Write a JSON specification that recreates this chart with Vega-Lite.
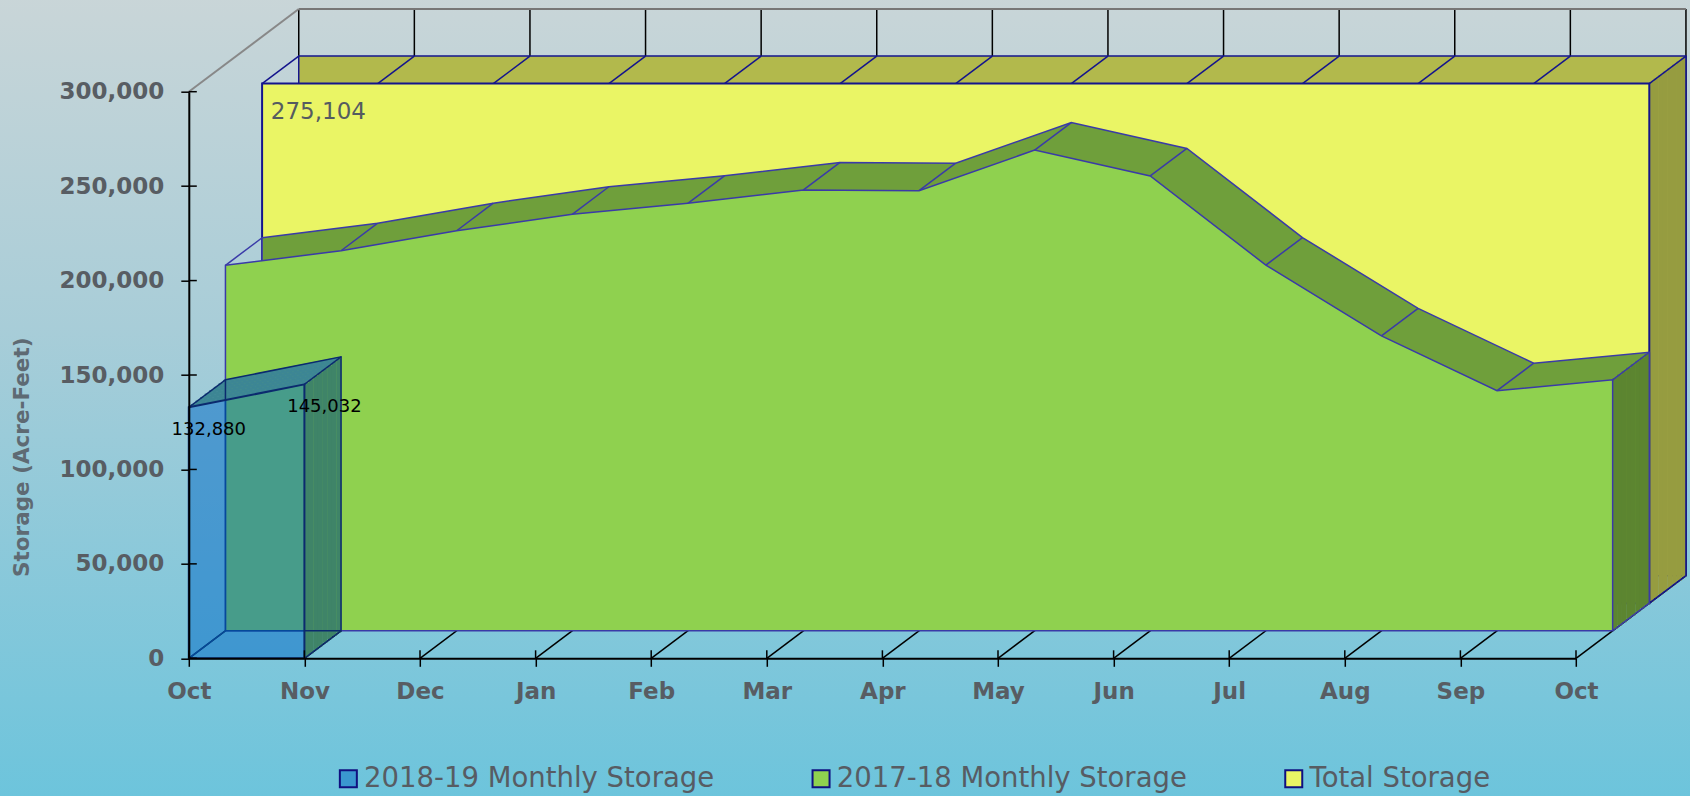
{
  "$schema": "https://vega.github.io/schema/vega-lite/v6.json",
  "autosize": {"type": "none"},
  "padding": {"left": 188.8, "top": 91.7, "right": 114, "bottom": 137.7},
  "width": 1387.2,
  "height": 566.6,
  "datasets": {
    "green": [
      {"m": 0, "v": 193500, "series": "2017-18 Monthly Storage"},
      {"m": 1, "v": 201200, "series": "2017-18 Monthly Storage"},
      {"m": 2, "v": 211800, "series": "2017-18 Monthly Storage"},
      {"m": 3, "v": 220500, "series": "2017-18 Monthly Storage"},
      {"m": 4, "v": 226300, "series": "2017-18 Monthly Storage"},
      {"m": 5, "v": 233400, "series": "2017-18 Monthly Storage"},
      {"m": 6, "v": 233000, "series": "2017-18 Monthly Storage"},
      {"m": 7, "v": 254500, "series": "2017-18 Monthly Storage"},
      {"m": 8, "v": 240800, "series": "2017-18 Monthly Storage"},
      {"m": 9, "v": 193600, "series": "2017-18 Monthly Storage"},
      {"m": 10, "v": 156100, "series": "2017-18 Monthly Storage"},
      {"m": 11, "v": 127100, "series": "2017-18 Monthly Storage"},
      {"m": 12, "v": 132880, "series": "2017-18 Monthly Storage"}
    ],
    "blue": [
      {"m": 0, "v": 132880, "series": "2018-19 Monthly Storage"},
      {"m": 1, "v": 145032, "series": "2018-19 Monthly Storage"}
    ],
    "total": [
      {"m": 0, "v": 275104, "series": "Total Storage"},
      {"m": 1, "v": 275104, "series": "Total Storage"},
      {"m": 2, "v": 275104, "series": "Total Storage"},
      {"m": 3, "v": 275104, "series": "Total Storage"},
      {"m": 4, "v": 275104, "series": "Total Storage"},
      {"m": 5, "v": 275104, "series": "Total Storage"},
      {"m": 6, "v": 275104, "series": "Total Storage"},
      {"m": 7, "v": 275104, "series": "Total Storage"},
      {"m": 8, "v": 275104, "series": "Total Storage"},
      {"m": 9, "v": 275104, "series": "Total Storage"},
      {"m": 10, "v": 275104, "series": "Total Storage"},
      {"m": 11, "v": 275104, "series": "Total Storage"},
      {"m": 12, "v": 275104, "series": "Total Storage"}
    ],
    "months": [
      {"m": 0}, {"m": 1}, {"m": 2}, {"m": 3}, {"m": 4}, {"m": 5}, {"m": 6},
      {"m": 7}, {"m": 8}, {"m": 9}, {"m": 10}, {"m": 11}, {"m": 12}
    ],
    "yticks": [
      {"v": 0}, {"v": 50000}, {"v": 100000}, {"v": 150000}, {"v": 200000}, {"v": 250000}, {"v": 300000}
    ],
    "one": [{}]
  },
  "layer": [
    {
      "data": {"name": "one"},
      "mark": {"type": "rect", "clip": false,
        "fill": {"gradient": "linear", "x1": 0, "y1": 0, "x2": 0, "y2": 1,
          "stops": [{"offset": 0, "color": "#cbd6d8"}, {"offset": 0.42, "color": "#a8cdd8"}, {"offset": 1, "color": "#6bc4dc"}]}},
      "encoding": {
        "x": {"datum": -2, "type": "quantitative", "scale": {"domain": [0, 12], "nice": false, "zero": false}},
        "x2": {"datum": 14},
        "y": {"datum": 360000, "type": "quantitative", "scale": {"domain": [0, 300000], "nice": false}},
        "y2": {"datum": -80000}
      }
    },
    {
      "data": {"name": "months"},
      "mark": {"type": "rule", "stroke": "#000000", "strokeWidth": 1.5, "xOffset": 109.95, "yOffset": -82.65, "y2Offset": -82.65},
      "encoding": {
        "x": {"field": "m", "type": "quantitative", "scale": {"domain": [0, 12], "nice": false, "zero": false}},
        "y": {"datum": 300000, "type": "quantitative", "scale": {"domain": [0, 300000], "nice": false}},
        "y2": {"datum": 0}
      }
    },
    {
      "data": {"name": "one"},
      "mark": {"type": "rule", "stroke": "#777777", "strokeWidth": 2, "xOffset": 109.95, "x2Offset": 109.95, "yOffset": -82.65},
      "encoding": {
        "x": {"datum": 0, "type": "quantitative", "scale": {"domain": [0, 12], "nice": false, "zero": false}},
        "x2": {"datum": 12},
        "y": {"datum": 300000, "type": "quantitative", "scale": {"domain": [0, 300000], "nice": false}}
      }
    },
    {
      "data": {"name": "one"},
      "mark": {"type": "rule", "stroke": "#888888", "strokeWidth": 2, "x2Offset": 109.95, "y2Offset": -82.65},
      "encoding": {
        "x": {"datum": 0, "type": "quantitative", "scale": {"domain": [0, 12], "nice": false, "zero": false}},
        "x2": {"datum": 0},
        "y": {"datum": 300000, "type": "quantitative", "scale": {"domain": [0, 300000], "nice": false}},
        "y2": {"datum": 300000}
      }
    },
    {
      "data": {"name": "months"},
      "mark": {"type": "rule", "stroke": "#000000", "strokeWidth": 1.5, "x2Offset": 109.95, "y2Offset": -82.65},
      "encoding": {
        "x": {"field": "m", "type": "quantitative", "scale": {"domain": [0, 12], "nice": false, "zero": false}},
        "x2": {"field": "m"},
        "y": {"datum": 0, "type": "quantitative", "scale": {"domain": [0, 300000], "nice": false}},
        "y2": {"datum": 0}
      }
    },

    {"data": {"name": "total"}, "mark": {"type": "area", "fill": "#b2b94c", "stroke": "#14148c", "strokeWidth": 1.5, "xOffset": 109.95, "yOffset": -82.65, "y2Offset": -82.65},
      "encoding": {"x": {"field": "m", "type": "quantitative", "scale": {"domain": [0, 12], "nice": false, "zero": false}}, "y": {"field": "v", "type": "quantitative", "scale": {"domain": [0, 300000], "nice": false}}, "y2": {"datum": 0}}},

    {"data": {"name": "total"}, "transform": [{"filter": "datum.m == 12"}], "mark": {"type": "rule", "stroke": "#969c40", "strokeWidth": 4.9, "strokeCap": "butt", "xOffset": 75.59, "yOffset": -56.82, "y2Offset": -56.82},
      "encoding": {"x": {"field": "m", "type": "quantitative", "scale": {"domain": [0, 12], "nice": false, "zero": false}}, "y": {"field": "v", "type": "quantitative", "scale": {"domain": [0, 300000], "nice": false}}, "y2": {"datum": 0}}},
    {"data": {"name": "total"}, "transform": [{"filter": "datum.m == 12"}], "mark": {"type": "rule", "stroke": "#969c40", "strokeWidth": 4.9, "strokeCap": "butt", "xOffset": 80.17, "yOffset": -60.27, "y2Offset": -60.27},
      "encoding": {"x": {"field": "m", "type": "quantitative", "scale": {"domain": [0, 12], "nice": false, "zero": false}}, "y": {"field": "v", "type": "quantitative", "scale": {"domain": [0, 300000], "nice": false}}, "y2": {"datum": 0}}},
    {"data": {"name": "total"}, "transform": [{"filter": "datum.m == 12"}], "mark": {"type": "rule", "stroke": "#969c40", "strokeWidth": 4.9, "strokeCap": "butt", "xOffset": 84.75, "yOffset": -63.71, "y2Offset": -63.71},
      "encoding": {"x": {"field": "m", "type": "quantitative", "scale": {"domain": [0, 12], "nice": false, "zero": false}}, "y": {"field": "v", "type": "quantitative", "scale": {"domain": [0, 300000], "nice": false}}, "y2": {"datum": 0}}},
    {"data": {"name": "total"}, "transform": [{"filter": "datum.m == 12"}], "mark": {"type": "rule", "stroke": "#969c40", "strokeWidth": 4.9, "strokeCap": "butt", "xOffset": 89.33, "yOffset": -67.15, "y2Offset": -67.15},
      "encoding": {"x": {"field": "m", "type": "quantitative", "scale": {"domain": [0, 12], "nice": false, "zero": false}}, "y": {"field": "v", "type": "quantitative", "scale": {"domain": [0, 300000], "nice": false}}, "y2": {"datum": 0}}},
    {"data": {"name": "total"}, "transform": [{"filter": "datum.m == 12"}], "mark": {"type": "rule", "stroke": "#969c40", "strokeWidth": 4.9, "strokeCap": "butt", "xOffset": 93.92, "yOffset": -70.6, "y2Offset": -70.6},
      "encoding": {"x": {"field": "m", "type": "quantitative", "scale": {"domain": [0, 12], "nice": false, "zero": false}}, "y": {"field": "v", "type": "quantitative", "scale": {"domain": [0, 300000], "nice": false}}, "y2": {"datum": 0}}},
    {"data": {"name": "total"}, "transform": [{"filter": "datum.m == 12"}], "mark": {"type": "rule", "stroke": "#969c40", "strokeWidth": 4.9, "strokeCap": "butt", "xOffset": 98.5, "yOffset": -74.04, "y2Offset": -74.04},
      "encoding": {"x": {"field": "m", "type": "quantitative", "scale": {"domain": [0, 12], "nice": false, "zero": false}}, "y": {"field": "v", "type": "quantitative", "scale": {"domain": [0, 300000], "nice": false}}, "y2": {"datum": 0}}},
    {"data": {"name": "total"}, "transform": [{"filter": "datum.m == 12"}], "mark": {"type": "rule", "stroke": "#969c40", "strokeWidth": 4.9, "strokeCap": "butt", "xOffset": 103.08, "yOffset": -77.48, "y2Offset": -77.48},
      "encoding": {"x": {"field": "m", "type": "quantitative", "scale": {"domain": [0, 12], "nice": false, "zero": false}}, "y": {"field": "v", "type": "quantitative", "scale": {"domain": [0, 300000], "nice": false}}, "y2": {"datum": 0}}},
    {"data": {"name": "total"}, "transform": [{"filter": "datum.m == 12"}], "mark": {"type": "rule", "stroke": "#969c40", "strokeWidth": 4.9, "strokeCap": "butt", "xOffset": 107.66, "yOffset": -80.93, "y2Offset": -80.93},
      "encoding": {"x": {"field": "m", "type": "quantitative", "scale": {"domain": [0, 12], "nice": false, "zero": false}}, "y": {"field": "v", "type": "quantitative", "scale": {"domain": [0, 300000], "nice": false}}, "y2": {"datum": 0}}},
    {"data": {"name": "total"}, "transform": [{"filter": "datum.m == 12"}], "mark": {"type": "rule", "stroke": "#14148c", "strokeWidth": 1.5, "xOffset": 109.95, "yOffset": -82.65, "y2Offset": -82.65},
      "encoding": {"x": {"field": "m", "type": "quantitative", "scale": {"domain": [0, 12], "nice": false, "zero": false}}, "y": {"field": "v", "type": "quantitative", "scale": {"domain": [0, 300000], "nice": false}}, "y2": {"datum": 0}}},
    {"data": {"name": "total"}, "transform": [{"filter": "datum.m == 12"}], "mark": {"type": "rule", "stroke": "#14148c", "strokeWidth": 1.5, "xOffset": 73.3, "yOffset": -55.1, "x2Offset": 109.95, "y2Offset": -82.65},
      "encoding": {"x": {"field": "m", "type": "quantitative", "scale": {"domain": [0, 12], "nice": false, "zero": false}}, "x2": {"field": "m"}, "y": {"datum": 0, "type": "quantitative", "scale": {"domain": [0, 300000], "nice": false}}, "y2": {"datum": 0}}},

    {"data": {"name": "total"}, "mark": {"type": "rule", "stroke": "#14148c", "strokeWidth": 1.5, "xOffset": 73.3, "yOffset": -55.1, "x2Offset": 109.95, "y2Offset": -82.65},
      "encoding": {"x": {"field": "m", "type": "quantitative", "scale": {"domain": [0, 12], "nice": false, "zero": false}}, "x2": {"field": "m"}, "y": {"field": "v", "type": "quantitative", "scale": {"domain": [0, 300000], "nice": false}}, "y2": {"field": "v"}}},
    {
      "data": {"name": "total"},
      "mark": {"type": "area", "stroke": "#14148c", "strokeWidth": 2, "fillOpacity": 1, "xOffset": 73.3, "yOffset": -55.1, "y2Offset": -55.1},
      "encoding": {
        "x": {"field": "m", "type": "quantitative", "scale": {"domain": [0, 12], "nice": false, "zero": false}},
        "y": {"field": "v", "type": "quantitative", "scale": {"domain": [0, 300000], "nice": false}},
        "y2": {"datum": 0},
        "color": {"field": "series", "type": "nominal",
          "scale": {"domain": ["2018-19 Monthly Storage", "2017-18 Monthly Storage", "Total Storage"], "range": ["#3a97d0", "#8fd14f", "#eaf565"]},
          "legend": {"orient": "none", "legendX": 145.8, "legendY": 673, "direction": "horizontal", "title": null}}
      }
    },

    {"data": {"name": "green"}, "mark": {"type": "area", "fill": "#6f9f3b", "stroke": "#3a3aa8", "strokeWidth": 1.5, "xOffset": 73.3, "yOffset": -55.1, "y2Offset": -55.1},
      "encoding": {"x": {"field": "m", "type": "quantitative", "scale": {"domain": [0, 12], "nice": false, "zero": false}}, "y": {"field": "v", "type": "quantitative", "scale": {"domain": [0, 300000], "nice": false}}, "y2": {"datum": 0}}},

    {"data": {"name": "green"}, "transform": [{"filter": "datum.m == 12"}], "mark": {"type": "rule", "stroke": "#5c8530", "strokeWidth": 4.9, "strokeCap": "butt", "xOffset": 38.94, "yOffset": -29.27, "y2Offset": -29.27},
      "encoding": {"x": {"field": "m", "type": "quantitative", "scale": {"domain": [0, 12], "nice": false, "zero": false}}, "y": {"field": "v", "type": "quantitative", "scale": {"domain": [0, 300000], "nice": false}}, "y2": {"datum": 0}}},
    {"data": {"name": "green"}, "transform": [{"filter": "datum.m == 12"}], "mark": {"type": "rule", "stroke": "#5c8530", "strokeWidth": 4.9, "strokeCap": "butt", "xOffset": 43.52, "yOffset": -32.72, "y2Offset": -32.72},
      "encoding": {"x": {"field": "m", "type": "quantitative", "scale": {"domain": [0, 12], "nice": false, "zero": false}}, "y": {"field": "v", "type": "quantitative", "scale": {"domain": [0, 300000], "nice": false}}, "y2": {"datum": 0}}},
    {"data": {"name": "green"}, "transform": [{"filter": "datum.m == 12"}], "mark": {"type": "rule", "stroke": "#5c8530", "strokeWidth": 4.9, "strokeCap": "butt", "xOffset": 48.1, "yOffset": -36.16, "y2Offset": -36.16},
      "encoding": {"x": {"field": "m", "type": "quantitative", "scale": {"domain": [0, 12], "nice": false, "zero": false}}, "y": {"field": "v", "type": "quantitative", "scale": {"domain": [0, 300000], "nice": false}}, "y2": {"datum": 0}}},
    {"data": {"name": "green"}, "transform": [{"filter": "datum.m == 12"}], "mark": {"type": "rule", "stroke": "#5c8530", "strokeWidth": 4.9, "strokeCap": "butt", "xOffset": 52.68, "yOffset": -39.6, "y2Offset": -39.6},
      "encoding": {"x": {"field": "m", "type": "quantitative", "scale": {"domain": [0, 12], "nice": false, "zero": false}}, "y": {"field": "v", "type": "quantitative", "scale": {"domain": [0, 300000], "nice": false}}, "y2": {"datum": 0}}},
    {"data": {"name": "green"}, "transform": [{"filter": "datum.m == 12"}], "mark": {"type": "rule", "stroke": "#5c8530", "strokeWidth": 4.9, "strokeCap": "butt", "xOffset": 57.27, "yOffset": -43.05, "y2Offset": -43.05},
      "encoding": {"x": {"field": "m", "type": "quantitative", "scale": {"domain": [0, 12], "nice": false, "zero": false}}, "y": {"field": "v", "type": "quantitative", "scale": {"domain": [0, 300000], "nice": false}}, "y2": {"datum": 0}}},
    {"data": {"name": "green"}, "transform": [{"filter": "datum.m == 12"}], "mark": {"type": "rule", "stroke": "#5c8530", "strokeWidth": 4.9, "strokeCap": "butt", "xOffset": 61.85, "yOffset": -46.49, "y2Offset": -46.49},
      "encoding": {"x": {"field": "m", "type": "quantitative", "scale": {"domain": [0, 12], "nice": false, "zero": false}}, "y": {"field": "v", "type": "quantitative", "scale": {"domain": [0, 300000], "nice": false}}, "y2": {"datum": 0}}},
    {"data": {"name": "green"}, "transform": [{"filter": "datum.m == 12"}], "mark": {"type": "rule", "stroke": "#5c8530", "strokeWidth": 4.9, "strokeCap": "butt", "xOffset": 66.43, "yOffset": -49.93, "y2Offset": -49.93},
      "encoding": {"x": {"field": "m", "type": "quantitative", "scale": {"domain": [0, 12], "nice": false, "zero": false}}, "y": {"field": "v", "type": "quantitative", "scale": {"domain": [0, 300000], "nice": false}}, "y2": {"datum": 0}}},
    {"data": {"name": "green"}, "transform": [{"filter": "datum.m == 12"}], "mark": {"type": "rule", "stroke": "#5c8530", "strokeWidth": 4.9, "strokeCap": "butt", "xOffset": 71.01, "yOffset": -53.38, "y2Offset": -53.38},
      "encoding": {"x": {"field": "m", "type": "quantitative", "scale": {"domain": [0, 12], "nice": false, "zero": false}}, "y": {"field": "v", "type": "quantitative", "scale": {"domain": [0, 300000], "nice": false}}, "y2": {"datum": 0}}},
    {"data": {"name": "green"}, "transform": [{"filter": "datum.m == 12"}], "mark": {"type": "rule", "stroke": "#3a3aa8", "strokeWidth": 1.5, "xOffset": 73.3, "yOffset": -55.1, "y2Offset": -55.1},
      "encoding": {"x": {"field": "m", "type": "quantitative", "scale": {"domain": [0, 12], "nice": false, "zero": false}}, "y": {"field": "v", "type": "quantitative", "scale": {"domain": [0, 300000], "nice": false}}, "y2": {"datum": 0}}},
    {"data": {"name": "green"}, "transform": [{"filter": "datum.m == 12"}], "mark": {"type": "rule", "stroke": "#3a3aa8", "strokeWidth": 1.5, "xOffset": 36.65, "yOffset": -27.55, "x2Offset": 73.3, "y2Offset": -55.1},
      "encoding": {"x": {"field": "m", "type": "quantitative", "scale": {"domain": [0, 12], "nice": false, "zero": false}}, "x2": {"field": "m"}, "y": {"datum": 0, "type": "quantitative", "scale": {"domain": [0, 300000], "nice": false}}, "y2": {"datum": 0}}},

    {"data": {"name": "green"}, "mark": {"type": "rule", "stroke": "#3a3aa8", "strokeWidth": 1.5, "xOffset": 36.65, "yOffset": -27.55, "x2Offset": 73.3, "y2Offset": -55.1},
      "encoding": {"x": {"field": "m", "type": "quantitative", "scale": {"domain": [0, 12], "nice": false, "zero": false}}, "x2": {"field": "m"}, "y": {"field": "v", "type": "quantitative", "scale": {"domain": [0, 300000], "nice": false}}, "y2": {"field": "v"}}},
    {
      "data": {"name": "green"},
      "mark": {"type": "area", "stroke": "#3a3aa8", "strokeWidth": 1.5, "fillOpacity": 1, "xOffset": 36.65, "yOffset": -27.55, "y2Offset": -27.55},
      "encoding": {
        "x": {"field": "m", "type": "quantitative", "scale": {"domain": [0, 12], "nice": false, "zero": false},
          "axis": {"values": [0, 1, 2, 3, 4, 5, 6, 7, 8, 9, 10, 11, 12], "title": null, "tickSize": 8, "labelPadding": 14, "labelFlush": false, "labelOverlap": false, "zindex": 1,
            "labelExpr": "['Oct','Nov','Dec','Jan','Feb','Mar','Apr','May','Jun','Jul','Aug','Sep','Oct'][datum.value]"}},
        "y": {"field": "v", "type": "quantitative", "scale": {"domain": [0, 300000], "nice": false},
          "axis": {"values": [0, 50000, 100000, 150000, 200000, 250000, 300000], "labelExpr": "format(datum.value, ',')", "format": ",", "title": "Storage (Acre-Feet)", "tickSize": 8, "labelPadding": 17, "zindex": 1,
            "titleX": -166, "titleY": 365, "titleAngle": 270, "titleAlign": "center", "titleBaseline": "middle"}},
        "y2": {"datum": 0},
        "color": {"field": "series", "type": "nominal",
          "scale": {"domain": ["2018-19 Monthly Storage", "2017-18 Monthly Storage", "Total Storage"], "range": ["#3a97d0", "#8fd14f", "#eaf565"]}}
      }
    },

    {"data": {"name": "blue"}, "transform": [{"filter": "datum.m == 1"}], "mark": {"type": "rule", "stroke": "#3f8468", "strokeWidth": 4.9, "strokeCap": "butt", "xOffset": 2.29, "yOffset": -1.72, "y2Offset": -1.72},
      "encoding": {"x": {"field": "m", "type": "quantitative", "scale": {"domain": [0, 12], "nice": false, "zero": false}}, "y": {"field": "v", "type": "quantitative", "scale": {"domain": [0, 300000], "nice": false}}, "y2": {"datum": 0}}},
    {"data": {"name": "blue"}, "transform": [{"filter": "datum.m == 1"}], "mark": {"type": "rule", "stroke": "#3f8468", "strokeWidth": 4.9, "strokeCap": "butt", "xOffset": 6.87, "yOffset": -5.17, "y2Offset": -5.17},
      "encoding": {"x": {"field": "m", "type": "quantitative", "scale": {"domain": [0, 12], "nice": false, "zero": false}}, "y": {"field": "v", "type": "quantitative", "scale": {"domain": [0, 300000], "nice": false}}, "y2": {"datum": 0}}},
    {"data": {"name": "blue"}, "transform": [{"filter": "datum.m == 1"}], "mark": {"type": "rule", "stroke": "#3f8468", "strokeWidth": 4.9, "strokeCap": "butt", "xOffset": 11.45, "yOffset": -8.61, "y2Offset": -8.61},
      "encoding": {"x": {"field": "m", "type": "quantitative", "scale": {"domain": [0, 12], "nice": false, "zero": false}}, "y": {"field": "v", "type": "quantitative", "scale": {"domain": [0, 300000], "nice": false}}, "y2": {"datum": 0}}},
    {"data": {"name": "blue"}, "transform": [{"filter": "datum.m == 1"}], "mark": {"type": "rule", "stroke": "#3f8468", "strokeWidth": 4.9, "strokeCap": "butt", "xOffset": 16.03, "yOffset": -12.05, "y2Offset": -12.05},
      "encoding": {"x": {"field": "m", "type": "quantitative", "scale": {"domain": [0, 12], "nice": false, "zero": false}}, "y": {"field": "v", "type": "quantitative", "scale": {"domain": [0, 300000], "nice": false}}, "y2": {"datum": 0}}},
    {"data": {"name": "blue"}, "transform": [{"filter": "datum.m == 1"}], "mark": {"type": "rule", "stroke": "#3f8468", "strokeWidth": 4.9, "strokeCap": "butt", "xOffset": 20.62, "yOffset": -15.5, "y2Offset": -15.5},
      "encoding": {"x": {"field": "m", "type": "quantitative", "scale": {"domain": [0, 12], "nice": false, "zero": false}}, "y": {"field": "v", "type": "quantitative", "scale": {"domain": [0, 300000], "nice": false}}, "y2": {"datum": 0}}},
    {"data": {"name": "blue"}, "transform": [{"filter": "datum.m == 1"}], "mark": {"type": "rule", "stroke": "#3f8468", "strokeWidth": 4.9, "strokeCap": "butt", "xOffset": 25.2, "yOffset": -18.94, "y2Offset": -18.94},
      "encoding": {"x": {"field": "m", "type": "quantitative", "scale": {"domain": [0, 12], "nice": false, "zero": false}}, "y": {"field": "v", "type": "quantitative", "scale": {"domain": [0, 300000], "nice": false}}, "y2": {"datum": 0}}},
    {"data": {"name": "blue"}, "transform": [{"filter": "datum.m == 1"}], "mark": {"type": "rule", "stroke": "#3f8468", "strokeWidth": 4.9, "strokeCap": "butt", "xOffset": 29.78, "yOffset": -22.38, "y2Offset": -22.38},
      "encoding": {"x": {"field": "m", "type": "quantitative", "scale": {"domain": [0, 12], "nice": false, "zero": false}}, "y": {"field": "v", "type": "quantitative", "scale": {"domain": [0, 300000], "nice": false}}, "y2": {"datum": 0}}},
    {"data": {"name": "blue"}, "transform": [{"filter": "datum.m == 1"}], "mark": {"type": "rule", "stroke": "#3f8468", "strokeWidth": 4.9, "strokeCap": "butt", "xOffset": 34.36, "yOffset": -25.83, "y2Offset": -25.83},
      "encoding": {"x": {"field": "m", "type": "quantitative", "scale": {"domain": [0, 12], "nice": false, "zero": false}}, "y": {"field": "v", "type": "quantitative", "scale": {"domain": [0, 300000], "nice": false}}, "y2": {"datum": 0}}},

    {"data": {"name": "blue"}, "transform": [{"window": [{"op": "lead", "field": "m", "as": "m2"}, {"op": "lead", "field": "v", "as": "v2"}], "sort": [{"field": "m"}]}, {"filter": "datum.m2 != null"}], "mark": {"type": "rule", "stroke": "#3d8694", "strokeWidth": 3, "strokeCap": "butt", "xOffset": 2.29, "x2Offset": 2.29, "yOffset": -1.72, "y2Offset": -1.72},
      "encoding": {"x": {"field": "m", "type": "quantitative", "scale": {"domain": [0, 12], "nice": false, "zero": false}}, "x2": {"field": "m2"}, "y": {"field": "v", "type": "quantitative", "scale": {"domain": [0, 300000], "nice": false}}, "y2": {"field": "v2"}}},
    {"data": {"name": "blue"}, "transform": [{"window": [{"op": "lead", "field": "m", "as": "m2"}, {"op": "lead", "field": "v", "as": "v2"}], "sort": [{"field": "m"}]}, {"filter": "datum.m2 != null"}], "mark": {"type": "rule", "stroke": "#3d8694", "strokeWidth": 3, "strokeCap": "butt", "xOffset": 6.87, "x2Offset": 6.87, "yOffset": -5.17, "y2Offset": -5.17},
      "encoding": {"x": {"field": "m", "type": "quantitative", "scale": {"domain": [0, 12], "nice": false, "zero": false}}, "x2": {"field": "m2"}, "y": {"field": "v", "type": "quantitative", "scale": {"domain": [0, 300000], "nice": false}}, "y2": {"field": "v2"}}},
    {"data": {"name": "blue"}, "transform": [{"window": [{"op": "lead", "field": "m", "as": "m2"}, {"op": "lead", "field": "v", "as": "v2"}], "sort": [{"field": "m"}]}, {"filter": "datum.m2 != null"}], "mark": {"type": "rule", "stroke": "#3d8694", "strokeWidth": 3, "strokeCap": "butt", "xOffset": 11.45, "x2Offset": 11.45, "yOffset": -8.61, "y2Offset": -8.61},
      "encoding": {"x": {"field": "m", "type": "quantitative", "scale": {"domain": [0, 12], "nice": false, "zero": false}}, "x2": {"field": "m2"}, "y": {"field": "v", "type": "quantitative", "scale": {"domain": [0, 300000], "nice": false}}, "y2": {"field": "v2"}}},
    {"data": {"name": "blue"}, "transform": [{"window": [{"op": "lead", "field": "m", "as": "m2"}, {"op": "lead", "field": "v", "as": "v2"}], "sort": [{"field": "m"}]}, {"filter": "datum.m2 != null"}], "mark": {"type": "rule", "stroke": "#3d8694", "strokeWidth": 3, "strokeCap": "butt", "xOffset": 16.03, "x2Offset": 16.03, "yOffset": -12.05, "y2Offset": -12.05},
      "encoding": {"x": {"field": "m", "type": "quantitative", "scale": {"domain": [0, 12], "nice": false, "zero": false}}, "x2": {"field": "m2"}, "y": {"field": "v", "type": "quantitative", "scale": {"domain": [0, 300000], "nice": false}}, "y2": {"field": "v2"}}},
    {"data": {"name": "blue"}, "transform": [{"window": [{"op": "lead", "field": "m", "as": "m2"}, {"op": "lead", "field": "v", "as": "v2"}], "sort": [{"field": "m"}]}, {"filter": "datum.m2 != null"}], "mark": {"type": "rule", "stroke": "#3d8694", "strokeWidth": 3, "strokeCap": "butt", "xOffset": 20.62, "x2Offset": 20.62, "yOffset": -15.5, "y2Offset": -15.5},
      "encoding": {"x": {"field": "m", "type": "quantitative", "scale": {"domain": [0, 12], "nice": false, "zero": false}}, "x2": {"field": "m2"}, "y": {"field": "v", "type": "quantitative", "scale": {"domain": [0, 300000], "nice": false}}, "y2": {"field": "v2"}}},
    {"data": {"name": "blue"}, "transform": [{"window": [{"op": "lead", "field": "m", "as": "m2"}, {"op": "lead", "field": "v", "as": "v2"}], "sort": [{"field": "m"}]}, {"filter": "datum.m2 != null"}], "mark": {"type": "rule", "stroke": "#3d8694", "strokeWidth": 3, "strokeCap": "butt", "xOffset": 25.2, "x2Offset": 25.2, "yOffset": -18.94, "y2Offset": -18.94},
      "encoding": {"x": {"field": "m", "type": "quantitative", "scale": {"domain": [0, 12], "nice": false, "zero": false}}, "x2": {"field": "m2"}, "y": {"field": "v", "type": "quantitative", "scale": {"domain": [0, 300000], "nice": false}}, "y2": {"field": "v2"}}},
    {"data": {"name": "blue"}, "transform": [{"window": [{"op": "lead", "field": "m", "as": "m2"}, {"op": "lead", "field": "v", "as": "v2"}], "sort": [{"field": "m"}]}, {"filter": "datum.m2 != null"}], "mark": {"type": "rule", "stroke": "#3d8694", "strokeWidth": 3, "strokeCap": "butt", "xOffset": 29.78, "x2Offset": 29.78, "yOffset": -22.38, "y2Offset": -22.38},
      "encoding": {"x": {"field": "m", "type": "quantitative", "scale": {"domain": [0, 12], "nice": false, "zero": false}}, "x2": {"field": "m2"}, "y": {"field": "v", "type": "quantitative", "scale": {"domain": [0, 300000], "nice": false}}, "y2": {"field": "v2"}}},
    {"data": {"name": "blue"}, "transform": [{"window": [{"op": "lead", "field": "m", "as": "m2"}, {"op": "lead", "field": "v", "as": "v2"}], "sort": [{"field": "m"}]}, {"filter": "datum.m2 != null"}], "mark": {"type": "rule", "stroke": "#3d8694", "strokeWidth": 3, "strokeCap": "butt", "xOffset": 34.36, "x2Offset": 34.36, "yOffset": -25.83, "y2Offset": -25.83},
      "encoding": {"x": {"field": "m", "type": "quantitative", "scale": {"domain": [0, 12], "nice": false, "zero": false}}, "x2": {"field": "m2"}, "y": {"field": "v", "type": "quantitative", "scale": {"domain": [0, 300000], "nice": false}}, "y2": {"field": "v2"}}},

    {"data": {"name": "blue"}, "mark": {"type": "area", "fill": "transparent", "stroke": "#0b2a6e", "strokeWidth": 1.5, "xOffset": 36.65, "yOffset": -27.55, "y2Offset": -27.55},
      "encoding": {"x": {"field": "m", "type": "quantitative", "scale": {"domain": [0, 12], "nice": false, "zero": false}}, "y": {"field": "v", "type": "quantitative", "scale": {"domain": [0, 300000], "nice": false}}, "y2": {"datum": 0}}},
    {"data": {"name": "blue"}, "mark": {"type": "rule", "stroke": "#0b2a6e", "strokeWidth": 1.5, "x2Offset": 36.65, "y2Offset": -27.55},
      "encoding": {"x": {"field": "m", "type": "quantitative", "scale": {"domain": [0, 12], "nice": false, "zero": false}}, "x2": {"field": "m"}, "y": {"field": "v", "type": "quantitative", "scale": {"domain": [0, 300000], "nice": false}}, "y2": {"field": "v"}}},
    {"data": {"name": "blue"}, "mark": {"type": "rule", "stroke": "#0b2a6e", "strokeWidth": 1.5, "x2Offset": 36.65, "y2Offset": -27.55},
      "encoding": {"x": {"field": "m", "type": "quantitative", "scale": {"domain": [0, 12], "nice": false, "zero": false}}, "x2": {"field": "m"}, "y": {"datum": 0, "type": "quantitative", "scale": {"domain": [0, 300000], "nice": false}}, "y2": {"datum": 0}}},
    {"data": {"name": "blue"}, "mark": {"type": "area", "fill": "#0068c6", "fillOpacity": 0.5, "stroke": "#0b2a6e", "strokeWidth": 2},
      "encoding": {"x": {"field": "m", "type": "quantitative", "scale": {"domain": [0, 12], "nice": false, "zero": false}}, "y": {"field": "v", "type": "quantitative", "scale": {"domain": [0, 300000], "nice": false}}, "y2": {"datum": 0}}},

    {
      "data": {"name": "yticks"},
      "mark": {"type": "rule", "stroke": "#000000", "strokeWidth": 1.5, "x2Offset": 8},
      "encoding": {
        "x": {"datum": 0, "type": "quantitative", "scale": {"domain": [0, 12], "nice": false, "zero": false}},
        "x2": {"datum": 0},
        "y": {"field": "v", "type": "quantitative", "scale": {"domain": [0, 300000], "nice": false}}
      }
    },
    {
      "data": {"name": "months"},
      "mark": {"type": "rule", "stroke": "#000000", "strokeWidth": 1.5, "y2Offset": -8},
      "encoding": {
        "x": {"field": "m", "type": "quantitative", "scale": {"domain": [0, 12], "nice": false, "zero": false}},
        "y": {"datum": 0, "type": "quantitative", "scale": {"domain": [0, 300000], "nice": false}},
        "y2": {"datum": 0}
      }
    },
    {
      "data": {"name": "total"},
      "transform": [{"filter": "datum.m == 0"}],
      "mark": {"type": "text", "align": "left", "baseline": "middle", "dx": 82, "dy": -26.6, "font": "DejaVu Sans", "fontSize": 23, "fill": "#555b60"},
      "encoding": {
        "x": {"field": "m", "type": "quantitative", "scale": {"domain": [0, 12], "nice": false, "zero": false}},
        "y": {"field": "v", "type": "quantitative", "scale": {"domain": [0, 300000], "nice": false}},
        "text": {"field": "v", "type": "quantitative", "format": ","}
      }
    },
    {
      "data": {"name": "blue"},
      "mark": {"type": "text", "align": "center", "baseline": "middle", "dx": 20, "dy": 23, "font": "DejaVu Sans", "fontSize": 18, "fill": "#000000"},
      "encoding": {
        "x": {"field": "m", "type": "quantitative", "scale": {"domain": [0, 12], "nice": false, "zero": false}},
        "y": {"field": "v", "type": "quantitative", "scale": {"domain": [0, 300000], "nice": false}},
        "text": {"field": "v", "type": "quantitative", "format": ","}
      }
    }
  ],
  "config": {
    "view": {"stroke": null},
    "axis": {
      "grid": false,
      "domainColor": "#000000", "domainWidth": 2,
      "tickColor": "#000000", "tickWidth": 1.5,
      "labelFont": "DejaVu Sans", "labelFontWeight": "bold", "labelFontSize": 23, "labelColor": "#585d63",
      "titleFont": "DejaVu Sans", "titleFontWeight": "bold", "titleFontSize": 21.5, "titleColor": "#5e6a73"
    },
    "legend": {
      "symbolType": "square", "symbolSize": 289, "symbolStrokeWidth": 2, "symbolStrokeColor": "#101080", "symbolOpacity": 1,
      "labelFont": "DejaVu Sans", "labelFontSize": 27.5, "labelColor": "#575c63", "labelLimit": 800, "labelOffset": 2,
      "columnPadding": 92.7, "padding": 0
    }
  }
}
